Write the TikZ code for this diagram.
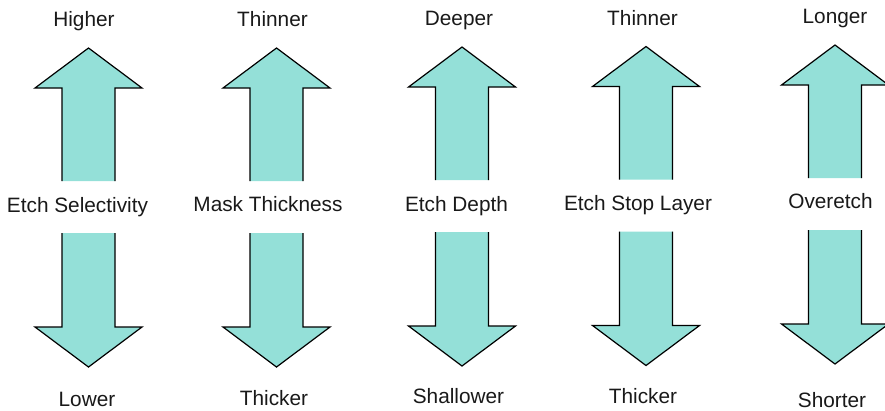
\documentclass[tikz,border=0pt]{standalone}
\usepackage{fontspec}
\setmainfont{Liberation Sans}
\definecolor{arrowfill}{RGB}{148,224,216}
\tikzset{
  lbl/.style={anchor=base, inner sep=0pt, font=\fontsize{20.8}{24}\selectfont, text=black!90},
  arrowbody/.style={fill=arrowfill, draw=none},
  arrowedge/.style={draw=black, line width=1.2pt, line join=miter}
}
\begin{document}
\begin{tikzpicture}[x=1pt,y=-1pt]
\useasboundingbox (0,0) rectangle (885,410);
% cx, dy (vertical shift)
\foreach \cx/\dy in {88.5/0, 276.5/0, 462/-1, 646/-1.5, 835/-3}{
  \begin{scope}[shift={(\cx,\dy)}]
    % up arrow
    \fill[arrowbody] (-26.5,181) -- (-26.5,88) -- (-53.5,88) -- (0,48) -- (53.5,88) -- (26.5,88) -- (26.5,181) -- cycle;
    \draw[arrowedge] (-26.5,181) -- (-26.5,88) -- (-53.5,88) -- (0,48) -- (53.5,88) -- (26.5,88) -- (26.5,181);
    % down arrow
    \fill[arrowbody] (-26.5,233) -- (-26.5,327) -- (-53.5,327) -- (0,367) -- (53.5,327) -- (26.5,327) -- (26.5,233) -- cycle;
    \draw[arrowedge] (-26.5,233) -- (-26.5,327) -- (-53.5,327) -- (0,367) -- (53.5,327) -- (26.5,327) -- (26.5,233);
  \end{scope}
}
% column 1
\node[lbl] (hi1) at (84,26) {Higher};
\node[lbl] (mid1) at (77.5,212) {Etch Selectivity};
\node[lbl] (lo1) at (87,406.5) {Lower};
% column 2
\node[lbl] (hi2) at (272.5,26) {Thinner};
\node[lbl] (mid2) at (268,211.7) {Mask Thickness};
\node[lbl] (lo2) at (274,405) {Thicker};
% column 3
\node[lbl] (hi3) at (459,25) {Deeper};
\node[lbl] (mid3) at (456.5,211.7) {Etch Depth};
\node[lbl] (lo3) at (458.5,403) {Shallower};
% column 4
\node[lbl] (hi4) at (642.5,25) {Thinner};
\node[lbl] (mid4) at (638,210.7) {Etch Stop Layer};
\node[lbl] (lo4) at (643,403.3) {Thicker};
% column 5
\node[lbl] (hi5) at (835,23.3) {Longer};
\node[lbl] (mid5) at (830.5,208.3) {Overetch};
\node[lbl] (lo5) at (832,407.3) {Shorter};
\end{tikzpicture}
\end{document}
